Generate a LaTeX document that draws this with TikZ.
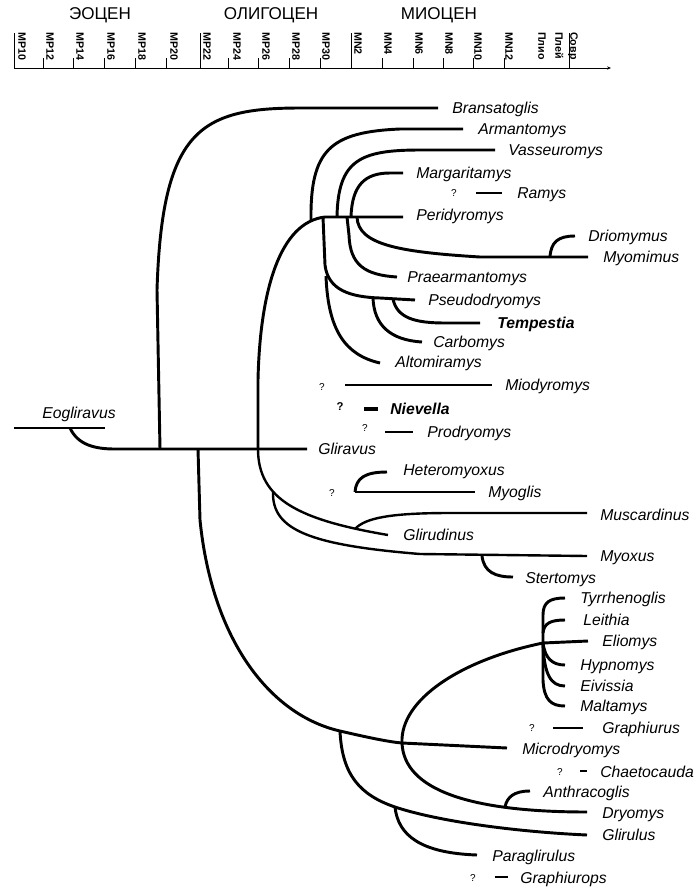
\documentclass[tikz,border=0pt]{standalone}
\usepackage{fontspec}
\setmainfont{Liberation Sans}
\usetikzlibrary{arrows.meta}

\begin{document}
\begin{tikzpicture}[x=0.75pt, y=-0.75pt,
    branch/.style={line width=2.2pt},
    twig/.style={line width=1.8pt},
    hair/.style={line width=1.3pt},
    taxon/.style={anchor=west, inner sep=0pt, text height=8.5pt, text depth=0pt,
                  font=\fontsize{11.8}{13}\selectfont\itshape},
    query/.style={inner sep=0pt, font=\fontsize{7.5}{8}\selectfont},
    stage/.style={rotate=-90, anchor=west, inner sep=0pt, text height=5.6pt, text depth=0pt,
                  font=\fontsize{8}{9}\selectfont\bfseries},
    epoch/.style={inner sep=0pt, font=\fontsize{12.8}{14}\selectfont}]

    % Frame: the reference measures 696 x 890 px, one unit = one pixel
    \useasboundingbox (0,0) rectangle (696,890);

    % Time scale
    \node[epoch] (eocene)    at (100,15) {ЭОЦЕН};
    \node[epoch] (oligocene) at (271,15) {ОЛИГОЦЕН};
    \node[epoch] (miocene)   at (439,15) {МИОЦЕН};

    \foreach \tx/\lab [count=\i] in {22/MP10, 50/MP12, 80/MP14, 111/MP16, 142/MP18,
        174/MP20, 207/MP22, 237/MP24, 266/MP26, 296/MP28, 326/MP30, 358/MN2, 388/MN4,
        419/MN6, 449/MN8, 478/MN10, 509/MN12, 542/Плио, 559/Плей, 574/Совр}
      \node[stage] (stage\i) at (\tx,32) {\lab};

    \coordinate (axisL) at (14,68);
    \coordinate (axisR) at (611,68);
    \draw[line width=0.6pt, -{Stealth[length=3pt, width=2.5pt]}] (axisL) -- (axisR);
    % epoch boundaries (tall) and zone ticks (short)
    \foreach \tx in {14,200,351,569}
      \draw[line width=0.6pt] (\tx,33) -- (\tx,68);
    \foreach \tx in {43,73,104,135,166,228,258,289,320,382,413,443,473,504}
      \draw[line width=0.6pt] (\tx,58) -- (\tx,68);

    % Branch points and tips
    \coordinate (eoL)      at (14,428);
    \coordinate (eoR)      at (105,428);
    \coordinate (eoFork)   at (70,428);
    \coordinate (stem)     at (115,449);
    \coordinate (braFork)  at (160,449);
    \coordinate (lowFork)  at (198,449);
    \coordinate (topFork)  at (258,449);
    \coordinate (tGli)     at (307,449);
    \coordinate (tBra)     at (438,108);

    \coordinate (armFork)  at (311,221);
    \coordinate (pseFork)  at (323,217);
    \coordinate (vasFork)  at (337,217);
    \coordinate (praeFork) at (347,217);
    \coordinate (marFork)  at (351,217);
    \coordinate (myoFork)  at (357,217);
    \coordinate (tPer)     at (403,217);
    \coordinate (tArm)     at (463,129);
    \coordinate (tVas)     at (495,150);
    \coordinate (tMar)     at (403,173);
    \coordinate (driFork)  at (550,257);
    \coordinate (tMyom)    at (588,257);
    \coordinate (tDri)     at (575,236);
    \coordinate (tPrae)    at (397,277);
    \coordinate (altFork)  at (326,276);
    \coordinate (tPse)     at (415,300);
    \coordinate (carFork)  at (373,298);
    \coordinate (temFork)  at (393,299);
    \coordinate (tCar)     at (422,342);
    \coordinate (tTem)     at (480,323);
    \coordinate (tAlt)     at (380,363);

    \coordinate (myoxFork) at (273,492);
    \coordinate (muscFork) at (355,529);
    \coordinate (tGlir)    at (388,535);
    \coordinate (tMusc)    at (587,513);
    \coordinate (stertFork) at (482,556);
    \coordinate (tMyox)    at (587,556);
    \coordinate (tSter)    at (513,577);
    \coordinate (hetFork)  at (355,492);
    \coordinate (tMyog)    at (475,492);
    \coordinate (tHet)     at (387,472);

    \coordinate (glirFork) at (340,731);
    \coordinate (eliKnee)  at (402,743);
    \coordinate (tMicro)   at (507,748);
    \coordinate (eliFork)  at (543,643);
    \coordinate (leiFork)  at (543,633);
    \coordinate (tEli)     at (588,641);
    \coordinate (tTyr)     at (565,598);
    \coordinate (tLei)     at (565,620);
    \coordinate (tHyp)     at (565,665);
    \coordinate (tEiv)     at (565,686);
    \coordinate (tMal)     at (565,706);
    \coordinate (anthFork) at (505,807);
    \coordinate (tDry)     at (587,812);
    \coordinate (tAnth)    at (530,791);
    \coordinate (paraFork) at (395,807);
    \coordinate (tGlirulus) at (587,835);
    \coordinate (tPara)    at (477,855);

    % Root and stem
    \draw[branch] (eoL) -- (eoR);
    \draw[branch] (eoFork) .. controls (78,445) and (95,449) .. (stem) -- (tGli);
    \draw[branch] (braFork) -- (157,290) .. controls (162,130) and (200,108) .. (300,108) -- (tBra);

    % Upper clade
    \draw[branch] (topFork) -- (258,380) .. controls (260,290) and (280,222) .. (325,217) -- (tPer);
    \draw[branch] (armFork) .. controls (310,150) and (330,132) .. (400,129) -- (tArm);
    \draw[branch] (vasFork) .. controls (338,160) and (360,150) .. (420,150) -- (tVas);
    \draw[branch] (marFork) .. controls (352,185) and (365,173) .. (390,173) -- (tMar);
    \draw[branch] (myoFork) .. controls (358,245) and (400,252) .. (480,257) -- (tMyom);
    \draw[branch] (driFork) .. controls (551,242) and (558,236) .. (tDri);
    \draw[branch] (praeFork) -- (349,235) .. controls (350,265) and (365,275) .. (tPrae);
    \draw[branch] (pseFork) -- (325,265) .. controls (328,290) and (350,297) .. (380,298) -- (tPse);
    \draw[branch] (altFork) .. controls (328,330) and (345,355) .. (tAlt);
    \draw[branch] (carFork) .. controls (374,325) and (390,340) .. (tCar);
    \draw[branch] (temFork) .. controls (397,318) and (415,323) .. (445,323) -- (tTem);

    % Glirinae / Myoxus group
    \draw[twig] (topFork) .. controls (258,500) and (300,520) .. (tGlir);
    \draw[twig] (muscFork) .. controls (365,518) and (390,513) .. (450,513) -- (tMusc);
    \draw[twig] (myoxFork) .. controls (272,530) and (310,545) .. (420,554) -- (tMyox);
    \draw[branch] (stertFork) .. controls (484,572) and (495,577) .. (tSter);
    \draw[branch] (hetFork) -- (tMyog);
    \draw[branch] (hetFork) .. controls (356,478) and (365,472) .. (tHet);

    % Lower clade
    \draw[branch] (lowFork) -- (200,520) .. controls (212,640) and (270,715) .. (glirFork)
                  .. controls (370,738) and (390,742) .. (eliKnee) -- (tMicro);
    \draw[branch] (eliFork) .. controls (460,660) and (400,700) .. (eliKnee)
                  .. controls (404,790) and (470,812) .. (tDry);
    \draw[branch] (anthFork) .. controls (507,797) and (514,791) .. (tAnth);
    \draw[branch] (glirFork) .. controls (342,775) and (360,795) .. (paraFork)
                  .. controls (440,822) and (520,832) .. (tGlirulus);
    \draw[branch] (paraFork) .. controls (398,835) and (420,853) .. (tPara);
    \draw[branch] (eliFork) -- (tEli);
    \draw[branch] (eliFork) -- (543,615) .. controls (543,602) and (550,598) .. (tTyr);
    \draw[branch] (leiFork) .. controls (544,623) and (551,620) .. (tLei);
    \draw[branch] (eliFork) .. controls (545,658) and (552,665) .. (tHyp);
    \draw[branch] (eliFork) .. controls (544,675) and (551,686) .. (tEiv);
    \draw[branch] (eliFork) -- (543,680) .. controls (544,700) and (551,706) .. (tMal);

    % Isolated taxa of uncertain position
    \coordinate (ramL) at (476,193);  \coordinate (ramR) at (502,193);
    \coordinate (mioL) at (345,385);  \coordinate (mioR) at (492,385);
    \coordinate (nieL) at (364,409);  \coordinate (nieR) at (378,409);
    \coordinate (proL) at (385,432);  \coordinate (proR) at (413,432);
    \coordinate (graL) at (553,728);  \coordinate (graR) at (583,728);
    \coordinate (chaL) at (580,771);  \coordinate (chaR) at (587,771);
    \coordinate (grpL) at (495,877);  \coordinate (grpR) at (508,877);
    \draw[branch] (ramL) -- (ramR);
    \draw[branch] (mioL) -- (mioR);
    \draw[line width=3pt] (nieL) -- (nieR);
    \draw[twig] (proL) -- (proR);
    \draw[hair] (graL) -- (graR);
    \draw[branch] (chaL) -- (chaR);
    \draw[branch] (grpL) -- (grpR);

    \node[query] (qRam) at (454,193) {?};
    \node[query] (qMio) at (322,387) {?};
    \node[query, font=\fontsize{8.5}{9}\selectfont\bfseries] (qNie) at (340,407) {?};
    \node[query] (qPro) at (365,428) {?};
    \node[query] (qMyog) at (332,493) {?};
    \node[query] (qGra) at (532,728) {?};
    \node[query] (qCha) at (560,772) {?};
    \node[query] (qGrp) at (473,878) {?};

    % Taxon labels
    \node[taxon] (Eogliravus)     at (42,413)  {Eogliravus};
    \node[taxon] (Bransatoglis)   at (452,108) {Bransatoglis};
    \node[taxon] (Armantomys)     at (478,129) {Armantomys};
    \node[taxon] (Vasseuromys)    at (508,150) {Vasseuromys};
    \node[taxon] (Margaritamys)   at (416,173) {Margaritamys};
    \node[taxon] (Ramys)          at (517,193) {Ramys};
    \node[taxon] (Peridyromys)    at (416,215) {Peridyromys};
    \node[taxon] (Driomymus)      at (588,236) {Driomymus};
    \node[taxon] (Myomimus)       at (603,257) {Myomimus};
    \node[taxon] (Praearmantomys) at (407,277) {Praearmantomys};
    \node[taxon] (Pseudodryomys)  at (428,300) {Pseudodryomys};
    \node[taxon, font=\fontsize{11.8}{13}\selectfont\itshape\bfseries] (Tempestia) at (497,323) {Tempestia};
    \node[taxon] (Carbomys)       at (433,342) {Carbomys};
    \node[taxon] (Altomiramys)    at (395,362) {Altomiramys};
    \node[taxon] (Miodyromys)     at (505,385) {Miodyromys};
    \node[taxon, font=\fontsize{11.8}{13}\selectfont\itshape\bfseries] (Nievella) at (390,409) {Nievella};
    \node[taxon] (Prodryomys)     at (427,432) {Prodryomys};
    \node[taxon] (Gliravus)       at (318,449) {Gliravus};
    \node[taxon] (Heteromyoxus)   at (403,470) {Heteromyoxus};
    \node[taxon] (Myoglis)        at (488,492) {Myoglis};
    \node[taxon] (Muscardinus)    at (600,515) {Muscardinus};
    \node[taxon] (Glirudinus)     at (403,535) {Glirudinus};
    \node[taxon] (Myoxus)         at (600,556) {Myoxus};
    \node[taxon] (Stertomys)      at (525,578) {Stertomys};
    \node[taxon] (Tyrrhenoglis)   at (580,598) {Tyrrhenoglis};
    \node[taxon] (Leithia)        at (583,620) {Leithia};
    \node[taxon] (Eliomys)        at (602,641) {Eliomys};
    \node[taxon] (Hypnomys)       at (580,665) {Hypnomys};
    \node[taxon] (Eivissia)       at (580,686) {Eivissia};
    \node[taxon] (Maltamys)       at (580,706) {Maltamys};
    \node[taxon] (Graphiurus)     at (602,728) {Graphiurus};
    \node[taxon] (Microdryomys)   at (522,749) {Microdryomys};
    \node[taxon] (Chaetocauda)    at (600,772) {Chaetocauda};
    \node[taxon] (Anthracoglis)   at (543,792) {Anthracoglis};
    \node[taxon] (Dryomys)        at (602,813) {Dryomys};
    \node[taxon] (Glirulus)       at (602,835) {Glirulus};
    \node[taxon] (Paraglirulus)   at (492,856) {Paraglirulus};
    \node[taxon] (Graphiurops)    at (520,878) {Graphiurops};
\end{tikzpicture}
\end{document}
